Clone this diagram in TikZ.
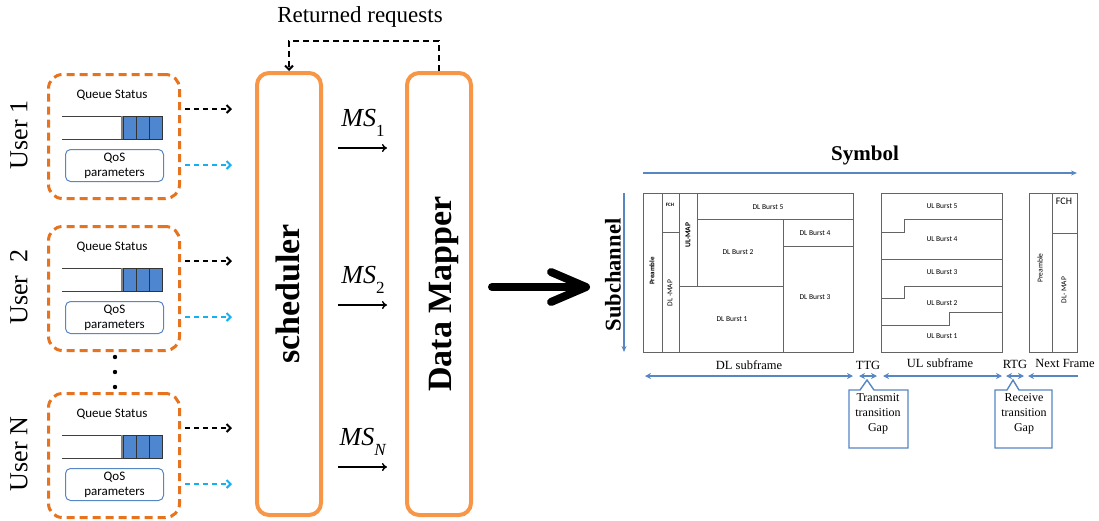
\documentclass[tikz,border=0pt]{standalone}
\usepackage{fontspec}
\setmainfont{Liberation Serif}
\newfontfamily\calib{Carlito}
\usetikzlibrary{arrows.meta,calc}
\definecolor{orD}{RGB}{232,115,30}
\definecolor{orL}{RGB}{247,150,70}
\definecolor{bl}{RGB}{86,134,196}
\definecolor{cy}{RGB}{20,176,240}
\definecolor{qb}{RGB}{79,134,208}
\definecolor{fr}{RGB}{100,100,100}
\newcommand\fsz[2]{\fontsize{#1}{#2}\selectfont}
\begin{document}
\begin{tikzpicture}[x=1pt,y=-1pt,
  userbox/.style={draw=orD, line width=3pt, dash pattern=on 8pt off 5pt, rounded corners=14pt, minimum width=131pt, minimum height=124pt, anchor=north west, inner sep=0pt},
  bigbox/.style={draw=orL, line width=4pt, rounded corners=12pt, minimum width=64pt, minimum height=442pt, inner sep=0pt},
  qos/.style={draw=bl, line width=1pt, rounded corners=5pt, minimum width=98pt, minimum height=32pt, anchor=north west, inner sep=0pt, align=center, font=\calib\fsz{13}{15}},
  qlbl/.style={font=\calib\fsz{13}{15}},
  blkdash/.style={draw=black, line width=2pt, dash pattern=on 5pt off 4pt, -{Straight Barb[length=4pt,width=8pt]}},
  cydash/.style={draw=cy, line width=2pt, dash pattern=on 5pt off 4pt, -{Straight Barb[length=4pt,width=8pt]}},
  ulbl/.style={rotate=90, font=\fsz{26}{30}},
  big/.style={rotate=90, font=\bfseries\fsz{34}{40}},
  mslbl/.style={font=\fsz{26}{30}},
  msarr/.style={draw=black, line width=1.4pt, -{To[length=5pt,width=8pt]}},
  fr/.style={draw=fr, line width=0.8pt},
  tiny/.style={font=\calib\fsz{7.5}{9}},
  dim/.style={draw=bl, line width=1.8pt, {Stealth[length=6pt,width=6pt]}-{Stealth[length=6pt,width=6pt]}},
  dimr/.style={draw=bl, line width=1.8pt, {Stealth[length=6pt,width=6pt]}-},
  axis/.style={draw=bl, line width=1.8pt, -{Stealth[length=6pt,width=5pt]}},
  sub/.style={font=\fsz{12.5}{15}},
  callout/.style={draw=bl, line width=1.4pt, fill=white},
  calltext/.style={font=\fsz{12}{15}, align=center}
]
\useasboundingbox (0,0) rectangle (1099,520);

% ---------- users ----------
\foreach \t/\n/\lab in {73/1/{User 1},225/2/{User~~2},392/N/{User N}}{
  \node[userbox] (u\n) at (47,\t) {};
  \node[qlbl] (qs\n) at (112,{\t+22}) {Queue Status};
  \draw[draw=black!75, line width=1pt] (62,{\t+43}) -- (163,{\t+43});
  \draw[draw=black!75, line width=1pt] (62,{\t+66}) -- (163,{\t+66});
  \draw[draw=gray, line width=2pt] (122,{\t+43}) -- (122,{\t+66});
  \foreach \c in {0,1,2}
    \draw[fill=qb, draw=black!80, line width=1pt] ({123+13.33*\c},{\t+43}) rectangle ++(13.33,23);
  \node[qos] (q\n) at (65,{\t+76}) {QoS\\parameters};
  \node[ulbl] (lab\n) at (19,{\t+62}) {\lab};
  \coordinate (bs\n) at (185,{\t+36});
  \coordinate (be\n) at (232,{\t+36});
  \coordinate (cs\n) at (185,{\t+92});
  \coordinate (ce\n) at (232,{\t+92});
  \draw[blkdash] (bs\n) -- (be\n);
  \draw[cydash] (cs\n) -- (ce\n);
}
\foreach \y [count=\i] in {357,372,387}
  \fill (115,\y) circle (2.2pt) coordinate (dot\i);

% ---------- scheduler & data mapper ----------
\node[bigbox] (sch) at (289,294) {};
\node[big] (schl) at (288,294) {scheduler};
\node[bigbox] (dm) at (439,294) {};
\node[big] (dml) at (444,294) {Data Mapper};

\node[font=\fsz{23}{27}, anchor=base] (ret) at (360,22) {Returned requests};
\draw[draw=black, line width=2pt, dash pattern=on 6pt off 4pt, -{Straight Barb[length=4pt,width=8pt]}]
  (dm.north) -- ++(0,-30) -| (sch.north);

% MS labels
\foreach \y/\s in {123/{1},280/{2},442/{\textit{N}}}{
  \node[mslbl] at (363,\y) {\textit{MS}\raisebox{-0.38em}{\fsz{17}{17}\selectfont \s}};
}
\foreach \y [count=\i] in {148,305,467}{
  \coordinate (ms\i a) at (338,\y);
  \coordinate (ms\i b) at (387,\y);
  \draw[msarr] (ms\i a) -- (ms\i b);
}

% big arrow
\coordinate (ba1) at (492,287);
\coordinate (ba2) at (586,287);
\draw[line width=8pt, line cap=round] (ba1) -- ([xshift=-4pt]ba2);
\draw[line width=8pt, line cap=round, line join=round] ([shift={(-35,-15)}]ba2) -- (ba2) -- ([shift={(-35,15)}]ba2);

% ---------- frame structure ----------
\node[font=\bfseries\fsz{21}{25}] (sym) at (865,155) {Symbol};
\coordinate (sy1) at (643,173);
\coordinate (sy2) at (1077,173);
\draw[axis] (sy1) -- (sy2);
\node[rotate=90, font=\bfseries\fsz{22.5}{26}] (subc) at (613,275) {Subchannel};
\coordinate (sc1) at (624,193);
\coordinate (sc2) at (624,352);
\draw[axis] (sc1) -- (sc2);

% DL subframe
\draw[fr] (643,193) rectangle (853,352);
\draw[fr] (662,193) -- (662,352);
\draw[fr] (679,193) -- (679,352);
\draw[fr] (662,232) -- (679,232);
\draw[fr] (697,193) -- (697,286);
\draw[fr] (679,286) -- (783,286);
\draw[fr] (783,219) -- (783,352);
\draw[fr] (697,219) -- (853,219);
\draw[fr] (783,246) -- (853,246);
\node[tiny, rotate=90, font=\calib\bfseries\fsz{7}{8}] at (652,271) {Preamble};
\node[tiny, rotate=90] at (670,293) {DL -MAP};
\node[font=\calib\bfseries\fsz{5}{6}] at (670,205) {FCH};
\node[rotate=90, font=\calib\bfseries\fsz{7.5}{9}] at (688,235) {UL-MAP};
\node[tiny] at (768,207) {DL Burst 5};
\node[tiny] at (738,252) {DL Burst 2};
\node[tiny] at (815,233) {DL Burst 4};
\node[tiny] at (815,297) {DL Burst 3};
\node[tiny] at (732,319) {DL Burst 1};

% UL subframe
\draw[fr] (881,193) rectangle (1002,352);
\draw[fr] (1002,219) -- (904,219) -- (904,232) -- (881,232);
\draw[fr] (881,259) -- (1002,259);
\draw[fr] (1002,286) -- (904,286) -- (904,298) -- (881,298);
\draw[fr] (1002,312) -- (949,312) -- (949,325) -- (881,325);
\node[tiny] at (942,206) {UL Burst 5};
\node[tiny] at (942,239) {UL Burst 4};
\node[tiny] at (942,272) {UL Burst 3};
\node[tiny] at (942,303) {UL Burst 2};
\node[tiny] at (942,336) {UL Burst 1};

% Next frame
\draw[fr] (1029,193) rectangle (1077,352);
\draw[fr] (1052,193) -- (1052,352);
\draw[fr] (1052,233) -- (1077,233);
\node[font=\calib\fsz{10}{12}] at (1064,201) {FCH};
\node[tiny, rotate=90] at (1040,268) {Preamble};
\node[tiny, rotate=90] at (1064,290) {DL- MAP};

% bottom labels and dimension arrows
\node[sub] at (749,365) {DL subframe};
\node[sub] at (868,365) {TTG};
\node[sub] at (940,363) {UL subframe};
\node[sub] at (1015,364) {RTG};
\node[sub] at (1065,363) {Next Frame};
\coordinate (d1) at (645,376); \coordinate (d2) at (853,376);
\coordinate (t1) at (859,376); \coordinate (t2) at (877,376);
\coordinate (u1) at (883,376); \coordinate (u2) at (1002,376);
\coordinate (r1) at (1006,376); \coordinate (r2) at (1024,376);
\coordinate (n1) at (1028,376); \coordinate (n2) at (1078,376);
\draw[dim] (d1) -- (d2);
\draw[dim] (t1) -- (t2);
\draw[dim] (u1) -- (u2);
\draw[dim] (r1) -- (r2);
\draw[dimr] (n1) -- (n2);

% callouts
\draw[callout] (849,390) -- (860,390) -- (867,380) -- (874,390) -- (908,390) -- (908,448) -- (849,448) -- cycle;
\node[calltext] (ttgc) at (878,414) {Transmit\\transition\\Gap};
\draw[callout] (995,390) -- (1007,390) -- (1013,380) -- (1019,390) -- (1052,390) -- (1052,448) -- (995,448) -- cycle;
\node[calltext] (rtgc) at (1024,414) {Receive\\transition\\Gap};
\end{tikzpicture}
\end{document}
